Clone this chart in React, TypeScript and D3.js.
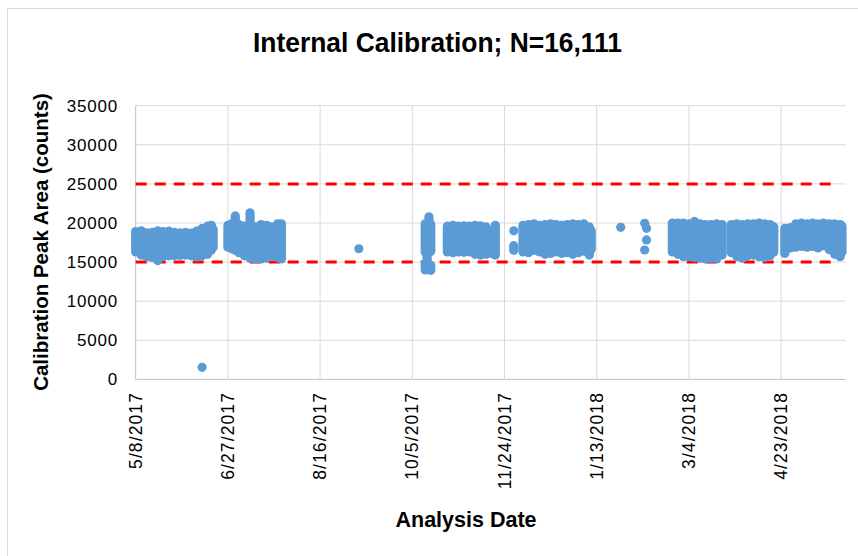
import React from "react";
import * as d3 from "d3";

// ---- data ----
// Dense daily clusters: each entry is the range covered by the markers on that date
const segDates = [
  "2017-05-08","2017-05-11","2017-05-14","2017-05-17","2017-05-20","2017-05-23","2017-05-26","2017-05-29",
  "2017-06-01","2017-06-04","2017-06-07","2017-06-10","2017-06-13","2017-06-16","2017-06-18","2017-06-19",
  "2017-06-27","2017-06-29","2017-07-01","2017-07-03","2017-07-06","2017-07-09","2017-07-12","2017-07-15",
  "2017-07-18","2017-07-21","2017-07-24","2017-07-26",
  "2017-10-12","2017-10-13","2017-10-14","2017-10-15","2017-10-12","2017-10-15",
  "2017-10-24","2017-10-27","2017-10-30","2017-11-02","2017-11-05","2017-11-08","2017-11-11","2017-11-14",
  "2017-11-17","2017-11-19","2017-11-29",
  "2017-12-04","2017-12-07","2017-12-10","2017-12-13","2017-12-16","2017-12-19","2017-12-22","2017-12-25",
  "2017-12-28","2017-12-31","2018-01-03","2018-01-06","2018-01-09","2018-01-10",
  "2018-02-23","2018-02-26","2018-03-01","2018-03-04","2018-03-07","2018-03-10","2018-03-13","2018-03-16",
  "2018-03-19","2018-03-22",
  "2018-03-27","2018-03-30","2018-04-02","2018-04-05","2018-04-08","2018-04-11","2018-04-14","2018-04-17","2018-04-19",
  "2018-04-25","2018-04-28","2018-05-01","2018-05-04","2018-05-07","2018-05-10","2018-05-13","2018-05-16",
  "2018-05-19","2018-05-22","2018-05-25","2018-05-26",
];
const segLow = [
  16300,15900,15650,15600,15200,15700,15800,15800,
  15850,15900,15800,15650,15800,16000,16500,16900,
  16900,16700,16500,16200,15800,15500,15400,15400,
  15500,15800,15600,15400,
  16300,14800,16200,16400,14000,13950,
  16300,16200,16300,16250,16300,16000,15900,16000,
  16100,15900,16500,
  16300,16200,16500,16300,16000,16100,16300,16100,
  16200,16000,16200,16400,15900,16600,
  16300,16000,15700,15700,15600,15500,15400,15500,
  15400,15900,
  16200,15700,15500,15800,15900,15700,15600,15800,16300,
  16100,16800,16900,17000,16900,17000,16800,17100,
  16600,16000,15700,16300,
];
const segHigh = [
  18900,19000,18750,18800,19000,18900,18950,18800,
  18750,18800,18700,18950,19300,19600,19700,19200,
  19700,19900,20900,19800,19600,21300,19500,19800,
  19700,19500,19900,19900,
  19900,16500,20800,19800,14800,14600,
  19600,19700,19600,19650,19600,19700,19650,19500,
  19000,19700,17100,
  19700,19800,19900,19700,19800,19900,19800,19700,
  19800,19900,19800,19900,19500,19000,
  20000,20000,20000,19900,20200,19900,19800,19800,
  19900,19800,
  19800,19900,19800,19900,19900,20000,19900,19800,19500,
  19300,19400,19900,20000,19900,20000,19900,20000,
  19900,19900,19800,19600,
];
// Individual markers
const pointDates = ["2017-06-13","2017-09-06","2017-11-29","2018-01-26","2018-02-08","2018-02-09","2018-02-09","2018-02-08"];
const pointValues = [1550, 16710, 19000, 19450, 19960, 19320, 17830, 16550];

// Acceptance limits (dashed red lines)
const limitValues = [15000, 25000];
const limitStart = "2017-05-08";
const limitEnd = "2018-05-22";

const yTicks = [0, 5000, 10000, 15000, 20000, 25000, 30000, 35000];
const xTickLabels = ["5/8/2017","6/27/2017","8/16/2017","10/5/2017","11/24/2017","1/13/2018","3/4/2018","4/23/2018"];

const parse = d3.timeParse("%Y-%m-%d");
const parseMDY = d3.timeParse("%-m/%-d/%Y");

export default function App() {
  const W = 858, H = 556;
  const left = 135.7, right = 845.7, top = 105.7, bottom = 379.4;
  const start = parseMDY("5/8/2017") as Date;
  const x = d3.scaleTime().domain([start, d3.timeDay.offset(start, 385)]).range([left, right]);
  const y = d3.scaleLinear().domain([0, 35000]).range([bottom, top]);
  const blue = "#5b9bd5";
  const r = 4.6;
  const font = "'Liberation Sans', Arial, sans-serif";
  const xTicks = xTickLabels.map((s) => parseMDY(s) as Date);

  return (
    <svg width={W} height={H} style={{ position: "absolute", left: 0, top: 0, background: "#fff" }}>
      <rect x={0} y={0} width={W} height={H} fill="#fff" />
      <line x1={7} x2={W} y1={8.5} y2={8.5} stroke="#d9d9d9" />
      <line x1={7.5} x2={7.5} y1={8} y2={H} stroke="#d9d9d9" />

      <text x={437.5} y={52} textAnchor="middle" fontFamily={font} fontWeight="bold" fontSize={27.5} fill="#000"
        textLength={369} lengthAdjust="spacingAndGlyphs">
        Internal Calibration; N=16,111
      </text>

      {/* gridlines */}
      {yTicks.map((t) => (
        <line key={"hy" + t} x1={left} x2={right} y1={y(t)} y2={y(t)} stroke={t === 0 ? "#bfbfbf" : "#d9d9d9"} strokeWidth={1} />
      ))}
      {xTicks.map((d, i) => (
        <line key={"vx" + i} x1={x(d)} x2={x(d)} y1={top} y2={bottom} stroke={i === 0 ? "#bfbfbf" : "#d9d9d9"} strokeWidth={1} />
      ))}

      {/* limit lines */}
      {limitValues.map((v) => (
        <line key={"lim" + v} x1={x(parse(limitStart) as Date)} x2={x(parse(limitEnd) as Date)} y1={y(v)} y2={y(v)}
          stroke="#ff0000" strokeWidth={3} strokeDasharray="11,8" />
      ))}

      {/* dense clusters */}
      {segDates.map((s, i) => {
        const cx = x(parse(s) as Date);
        return (
          <line key={"seg" + i} x1={cx} x2={cx} y1={y(segLow[i])} y2={y(segHigh[i])} stroke={blue}
            strokeWidth={2 * r} strokeLinecap="round" />
        );
      })}
      {pointDates.map((s, i) => (
        <circle key={"pt" + i} cx={x(parse(s) as Date)} cy={y(pointValues[i])} r={r} fill={blue} />
      ))}

      {/* y tick labels */}
      {yTicks.map((t) => (
        <text key={"yl" + t} x={118} y={y(t) + 6} textAnchor="end" fontFamily={font} fontSize={17} letterSpacing={0.8} fill="#000">
          {t}
        </text>
      ))}
      {/* x tick labels */}
      {xTicks.map((d, i) => (
        <text key={"xl" + i} transform={`translate(${x(d) + 6},392) rotate(-90)`} textAnchor="end" fontFamily={font}
          fontSize={17.5} letterSpacing={1.1} fill="#000">
          {xTickLabels[i]}
        </text>
      ))}

      <text transform="translate(48,242) rotate(-90)" textAnchor="middle" fontFamily={font} fontWeight="bold" fontSize={20.5} fill="#000">
        Calibration Peak Area (counts)
      </text>
      <text x={466} y={527} textAnchor="middle" fontFamily={font} fontWeight="bold" fontSize={21.5} fill="#000">
        Analysis Date
      </text>
    </svg>
  );
}
